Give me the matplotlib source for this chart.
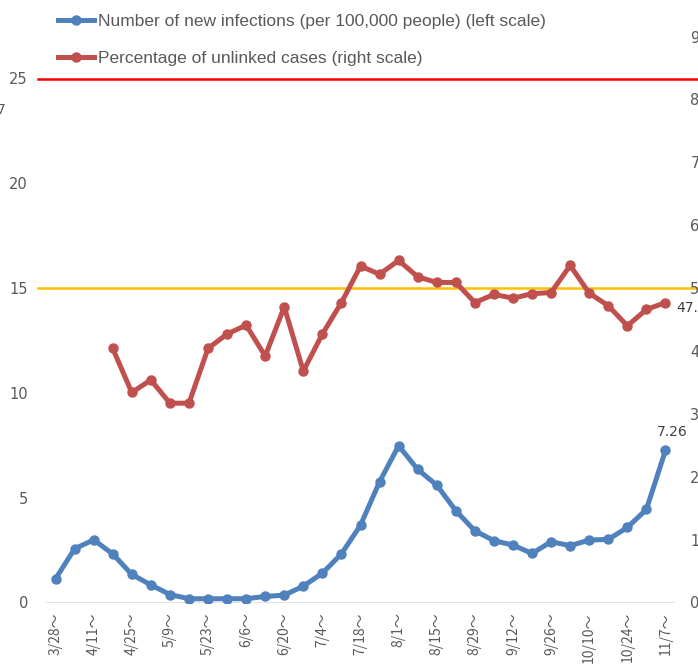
import matplotlib
matplotlib.use("Agg")
import matplotlib.pyplot as plt
from matplotlib import font_manager

# ---------------- data ----------------
weeks = ['3/28', '4/4', '4/11', '4/18', '4/25', '5/2', '5/9', '5/16', '5/23', '5/30',
         '6/6', '6/13', '6/20', '6/27', '7/4', '7/11', '7/18', '7/25', '8/1', '8/8',
         '8/15', '8/22', '8/29', '9/5', '9/12', '9/19', '9/26', '10/3', '10/10',
         '10/17', '10/24', '10/31', '11/7']

new_infections = [1.13, 2.56, 2.99, 2.32, 1.34, 0.84, 0.38, 0.18, 0.18, 0.18,
                  0.18, 0.29, 0.35, 0.78, 1.40, 2.32, 3.69, 5.76, 7.48, 6.35,
                  5.60, 4.38, 3.42, 2.95, 2.74, 2.34, 2.90, 2.71, 2.98,
                  3.01, 3.58, 4.44, 7.26]

# starts at 4/18
unlinked_pct = [None, None, None, 40.4, 33.4, 35.4, 31.7, 31.7, 40.4, 42.7,
                44.1, 39.2, 47.0, 36.8, 42.7, 47.7, 53.5, 52.2, 54.4, 51.8,
                50.9, 50.9, 47.7, 49.0, 48.4, 49.1, 49.3, 53.6, 49.2,
                47.2, 44.0, 46.6, 47.7]

left_ticks = [0, 5, 10, 15, 20, 25]
right_ticks = [0, 10, 20, 30, 40, 50, 60, 70, 80, 90]

BLUE = '#4F81BD'
RED = '#C0504D'
GREY = '#595959'

installed = {f.name for f in font_manager.fontManager.ttflist}
narrow = 'Liberation Sans Narrow' if 'Liberation Sans Narrow' in installed else 'Liberation Sans'

# ---------------- figure ----------------
fig = plt.figure(figsize=(6.98, 6.64), dpi=100)
ax = fig.add_axes([46/698, 61.5/664, 629/698, 602.5/664])
ax2 = ax.twinx()

x = list(range(len(weeks)))
ax.plot(x, new_infections, color=BLUE, lw=3.6, marker='o', ms=6.5,
        solid_joinstyle='round', label='Number of new infections (per 100,000 people) (left scale)',
        zorder=3)

xr = [i for i, v in enumerate(unlinked_pct) if v is not None]
yr = [v for v in unlinked_pct if v is not None]
ax2.plot(xr, yr, color=RED, lw=3.6, marker='o', ms=6.5, solid_joinstyle='round',
         label='Percentage of unlinked cases (right scale)', zorder=3)

ax.set_xlim(-0.5, len(weeks) - 0.5)
ax.set_ylim(0, 602.5/20.96)
ax2.set_ylim(0, 602.5/6.288)

# reference lines (left scale)
trans = ax.get_yaxis_transform()
ax.plot([-0.013, 1.05], [25, 25], transform=trans, color='#FF0000', lw=1.8, clip_on=False, zorder=2)
ax.plot([-0.013, 1.05], [15, 15], transform=trans, color='#FFC000', lw=1.8, clip_on=False, zorder=2)

# axes styling
for a in (ax, ax2):
    for s in a.spines.values():
        s.set_visible(False)
ax.axhline(0, color='#D9D9D9', lw=1.8, zorder=1)

ax.set_yticks(left_ticks)
ax.tick_params(axis='y', length=0, pad=13, labelsize=10.5, labelcolor=GREY)
ax2.set_yticks(right_ticks)
ax2.tick_params(axis='y', length=0, pad=11, labelsize=10.5, labelcolor=GREY)

ax.set_xticks(x[::2])
ax.set_xticklabels([w + '～' for w in weeks[::2]], rotation=90,
                   family=['Noto Sans CJK JP', 'DejaVu Sans'], fontsize=10, color=GREY)
ax.tick_params(axis='x', length=0, pad=7)

# data labels
ax.annotate('7.26', (x[-1], new_infections[-1]), xytext=(5, 8), textcoords='offset points',
            ha='center', va='bottom', fontsize=10, color='#404040')
ax2.annotate('47.7', (x[-1], unlinked_pct[-1]), xytext=(8, -4), textcoords='offset points',
             ha='left', va='center', fontsize=10, color='#404040')

# legend
fig.legend(loc='upper left', bbox_to_anchor=(42/698, 1 + 2/664), frameon=False,
           handlelength=2.1, handletextpad=0.25, labelspacing=1.28,
           prop={'family': narrow, 'size': 12.5}, labelcolor=GREY)

fig.text(6/698, 1 - 110/664, '7', ha='right', va='center', fontsize=10, color=GREY)

fig.savefig('out.png', dpi=100)
